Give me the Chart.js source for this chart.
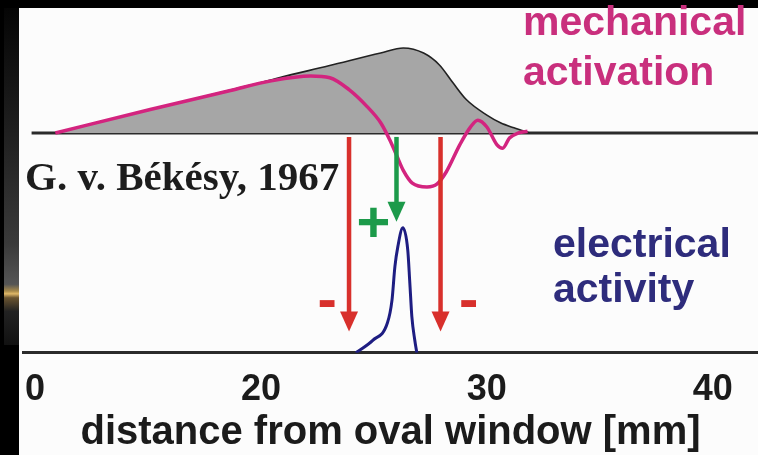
<!DOCTYPE html>
<html>
<head>
<meta charset="utf-8">
<title>Békésy travelling wave</title>
<script src="https://cdn.jsdelivr.net/npm/chart.js@4.4.0/dist/chart.umd.min.js"></script>
<style>
    html, body { margin: 0; padding: 0; background: #000; }
    #wrap { width: 758px; height: 455px; }
</style>
</head>
<body>
<div id="wrap"><canvas id="bekesyChart" width="758" height="455"></canvas></div>
<script>
// distance from the oval window [mm]
const xTicks = [0, 20, 30, 40];

// mechanical envelope (grey area), relative amplitude
const envelopeX = [1.8, 10.2, 19.0, 20.8, 23.0, 25.3, 26.3, 27.2, 27.9, 28.5, 29.1, 30.0, 30.6, 31.2, 31.9];
const envelopeY = [0, 0.275, 0.56, 0.65, 0.79, 0.94, 1.0, 0.94, 0.80, 0.59, 0.39, 0.21, 0.12, 0.06, 0];

// instantaneous wave (magenta)
const waveX = [1.8, 10.2, 17.3, 20.4, 22.2, 23.05, 23.9, 24.7, 25.3, 25.7, 26.0, 26.3, 26.7, 27.35, 27.8, 28.2, 28.8, 29.25, 29.6, 30.0, 30.45, 30.7, 31.0, 31.4, 31.8];
const waveY = [0, 0.275, 0.5, 0.61, 0.67, 0.65, 0.51, 0.31, 0.12, -0.08, -0.26, -0.44, -0.59, -0.635, -0.6, -0.46, -0.14, 0.06, 0.15, 0.07, -0.14, -0.18, -0.06, 0, 0.02];

// electrical activity (blue spike)
const spikeX = [24.2, 24.95, 25.6, 25.8, 25.93, 26.06, 26.28, 26.5, 26.59, 26.68, 26.81, 26.9];
const spikeY = [0, 0.1, 0.24, 0.42, 0.69, 0.85, 1.0, 0.82, 0.56, 0.29, 0.1, 0];

// excitation / inhibition arrows: position [mm] and tip height (electrical units)
const arrowX = [23.9, 26.0, 27.95];
const arrowTip = [0.17, 1.05, 0.17];
const arrowSigns = ['-', '+', '-'];

const RED = '#d8302c';
const GREEN = '#1c9a4a';
const SANS = '"Liberation Sans", Arial, Helvetica, sans-serif';

// x axis where every interval between neighbouring ticks gets the same width
class SegmentedScale extends Chart.LinearScale {
    static id = 'segmented';
    static defaults = Chart.LinearScale.defaults;

    toSegment(v) {
        let i = 0;
        while (i < xTicks.length - 2 && v > xTicks[i + 1]) i++;
        return i + (v - xTicks[i]) / (xTicks[i + 1] - xTicks[i]);
    }

    fromSegment(s) {
        const i = Math.max(0, Math.min(xTicks.length - 2, Math.floor(s)));
        return xTicks[i] + (s - i) * (xTicks[i + 1] - xTicks[i]);
    }

    getPixelForValue(value) {
        if (value === null || value === undefined) return NaN;
        const lo = this.toSegment(this.min);
        const hi = this.toSegment(this.max);
        return this.getPixelForDecimal((this.toSegment(value) - lo) / (hi - lo));
    }

    getValueForPixel(pixel) {
        const lo = this.toSegment(this.min);
        const hi = this.toSegment(this.max);
        return this.fromSegment(lo + this.getDecimalForPixel(pixel) * (hi - lo));
    }
}
Chart.register(SegmentedScale);

function toPoints(xs, ys) {
    return xs.map((x, i) => ({ x: x, y: ys[i] }));
}

// black slide frame with the white panel
const backdrop = {
    id: 'backdrop',
    beforeDraw(chart) {
        const { ctx, width, height } = chart;
        ctx.save();
        ctx.fillStyle = '#000';
        ctx.fillRect(0, 0, width, height);
        ctx.fillStyle = '#fcfcfc';
        ctx.fillRect(19, 8, width - 19, height - 8);

        const g = ctx.createLinearGradient(0, 8, 0, 345);
        g.addColorStop(0, '#050505');
        g.addColorStop(0.35, '#1e1e1e');
        g.addColorStop(0.7, '#3a3a3a');
        g.addColorStop(0.82, '#555');
        g.addColorStop(0.84, '#a88a4a');
        g.addColorStop(0.848, '#e0b868');
        g.addColorStop(0.86, '#6a5430');
        g.addColorStop(0.9, '#222');
        g.addColorStop(1, '#111');
        ctx.fillStyle = g;
        ctx.fillRect(4, 8, 15, 337);
        ctx.restore();
    }
};

function drawArrow(ctx, px, yTop, yTip, color) {
    const headLen = 20, headHalf = 9;
    ctx.strokeStyle = color;
    ctx.fillStyle = color;
    ctx.lineWidth = 4.5;
    ctx.beginPath();
    ctx.moveTo(px, yTop);
    ctx.lineTo(px, yTip - headLen + 2);
    ctx.stroke();
    ctx.beginPath();
    ctx.moveTo(px - headHalf, yTip - headLen);
    ctx.lineTo(px + headHalf, yTip - headLen);
    ctx.lineTo(px, yTip);
    ctx.closePath();
    ctx.fill();
}

const annotations = {
    id: 'annotations',
    beforeDatasetsDraw(chart) {
        // baseline of the mechanical panel
        const { ctx, chartArea, scales: { x, yMech } } = chart;
        const y0 = yMech.getPixelForValue(0);
        ctx.save();
        ctx.strokeStyle = '#2b2b2b';
        ctx.lineWidth = 3;
        ctx.beginPath();
        ctx.moveTo(x.getPixelForValue(-0.3), y0);
        ctx.lineTo(chartArea.right, y0);
        ctx.stroke();
        ctx.restore();
    },
    afterDatasetsDraw(chart) {
        const { ctx, scales: { x, yMech, yElec } } = chart;
        const yTop = yMech.getPixelForValue(0) + 4;
        const signOffset = [[-22, -28], [-23, 1], [28, -28]];
        ctx.save();
        arrowX.forEach((mm, i) => {
            const px = x.getPixelForValue(mm);
            const tip = yElec.getPixelForValue(arrowTip[i]);
            const color = arrowSigns[i] === '+' ? GREEN : RED;
            drawArrow(ctx, px, yTop, tip, color);

            ctx.fillStyle = color;
            ctx.font = 'bold 58px ' + SANS;
            ctx.textAlign = 'center';
            ctx.textBaseline = 'alphabetic';
            const cx = px + signOffset[i][0];
            const cy = tip + signOffset[i][1];
            ctx.fillText(arrowSigns[i], cx, cy + (arrowSigns[i] === '+' ? 19 : 15));
        });

        ctx.textAlign = 'left';
        ctx.textBaseline = 'alphabetic';
        ctx.font = 'bold 41px ' + SANS;
        ctx.fillStyle = '#c92f7d';
        ctx.fillText('mechanical', 523, 35);
        ctx.fillText('activation', 523, 85);
        ctx.fillStyle = '#2e2c7c';
        ctx.fillText('electrical', 553, 257);
        ctx.fillText('activity', 553, 302);

        ctx.font = 'bold 41px "Liberation Serif", "Times New Roman", serif';
        ctx.fillStyle = '#1d1d1d';
        ctx.fillText('G. v. Békésy, 1967', 25, 190);
        ctx.restore();
    }
};

const ctx = document.getElementById('bekesyChart');

new Chart(ctx, {
    type: 'line',
    data: {
        datasets: [{
            label: 'mechanical wave',
            data: toPoints(waveX, waveY),
            yAxisID: 'yMech',
            borderColor: '#d3247f',
            borderWidth: 3.5,
            pointRadius: 0,
            fill: false,
            cubicInterpolationMode: 'monotone',
            order: 0
        }, {
            label: 'electrical activity',
            data: toPoints(spikeX, spikeY),
            yAxisID: 'yElec',
            borderColor: '#1e1d82',
            borderWidth: 3,
            pointRadius: 0,
            fill: false,
            cubicInterpolationMode: 'monotone',
            order: 1
        }, {
            label: 'envelope',
            data: toPoints(envelopeX, envelopeY),
            yAxisID: 'yMech',
            borderColor: '#222',
            borderWidth: 1.6,
            backgroundColor: '#a6a6a6',
            pointRadius: 0,
            fill: 'origin',
            cubicInterpolationMode: 'monotone',
            order: 2
        }]
    },
    options: {
        responsive: false,
        animation: false,
        devicePixelRatio: 1,
        events: [],
        layout: {
            padding: { left: 23, right: 0, top: 10, bottom: 2 }
        },
        plugins: {
            legend: { display: false },
            tooltip: { enabled: false },
            title: { display: false }
        },
        scales: {
            x: {
                type: 'segmented',
                min: -1.06,
                max: 42,
                bounds: 'data',
                afterBuildTicks: function (axis) {
                    axis.ticks = xTicks.map(v => ({ value: v }));
                },
                grid: { display: false, drawTicks: false },
                border: { display: true, color: '#2b2b2b', width: 3 },
                ticks: {
                    autoSkip: false,
                    maxRotation: 0,
                    padding: 16,
                    color: '#1b1b1b',
                    font: { family: SANS, size: 36, weight: 'bold', lineHeight: 1.2 },
                    callback: function (value) {
                        return String(value);
                    }
                },
                title: {
                    display: true,
                    text: 'distance from oval window [mm]',
                    color: '#1b1b1b',
                    font: { family: SANS, size: 40, weight: 'bold', lineHeight: 1 },
                    padding: { top: -15, bottom: 0 }
                }
            },
            yMech: {
                type: 'linear',
                position: 'left',
                min: -2.588,
                max: 1.447,
                display: false
            },
            yElec: {
                type: 'linear',
                position: 'left',
                min: 0,
                max: 2.744,
                display: false
            }
        }
    },
    plugins: [backdrop, annotations]
});
</script>
</body>
</html>
